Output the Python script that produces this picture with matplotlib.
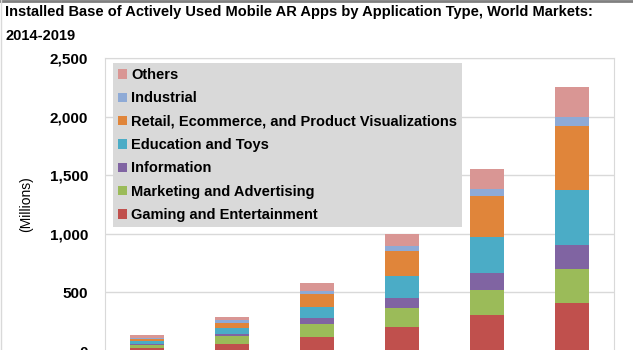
import matplotlib.pyplot as plt
import numpy as np

plt.rcParams['font.family'] = ['Liberation Sans', 'DejaVu Sans']

years = ["2014", "2015", "2016", "2017", "2018", "2019"]
gaming = [27, 63, 120, 208, 306, 414]
marketing = [25, 63, 114, 158, 219, 283]
information = [10, 22, 49, 86, 144, 205]
education = [20, 47, 94, 185, 308, 475]
retail = [22, 48, 109, 214, 349, 543]
industrial = [8, 20, 28, 46, 60, 80]
others = [22, 28, 66, 103, 168, 251]

series = [
    ("Gaming and Entertainment", gaming, "#c0504d"),
    ("Marketing and Advertising", marketing, "#9bbb59"),
    ("Information", information, "#8064a2"),
    ("Education and Toys", education, "#4bacc6"),
    ("Retail, Ecommerce, and Product Visualizations", retail, "#e0853a"),
    ("Industrial", industrial, "#8eaad6"),
    ("Others", others, "#d99694"),
]

fig = plt.figure(figsize=(6.33, 3.5), dpi=100)
ax = fig.add_axes([105/633, -0.003, 509/633, 292/350 + 0.003])

x = np.arange(len(years))
bottom = np.zeros(len(years))
handles = []
for name, vals, col in series:
    h = ax.bar(x, vals, width=0.4, bottom=bottom, color=col, label=name, zorder=2)
    handles.append(h)
    bottom += np.array(vals)

ax.set_xlim(-0.5, 5.5)
ax.set_ylim(0, 2500)
ax.set_yticks([0, 500, 1000, 1500, 2000, 2500])
ax.set_yticklabels(["0", "500", "1,000", "1,500", "2,000", "2,500"],
                   fontsize=11, fontweight="bold")
ax.set_xticks([])
ax.tick_params(axis="y", length=0, pad=12)
ax.grid(axis="y", color="#d9d9d9", linewidth=1, zorder=0)
for s in ax.spines.values():
    s.set_color("#d9d9d9")
ax.spines["bottom"].set_visible(False)
ax.set_ylabel("(Millions)", fontsize=10, labelpad=12)

leg = ax.legend(handles[::-1], [s[0] for s in series][::-1],
                loc="upper left", bbox_to_anchor=(8/509, 1 - 5/292),
                frameon=True, fancybox=False, facecolor="#d9d9d9",
                edgecolor="#d9d9d9", framealpha=1,
                prop={"size": 10.5, "weight": "bold"},
                handlelength=0.6, handleheight=0.6, handletextpad=0.3,
                labelspacing=0.64, borderpad=0.35, borderaxespad=0)
leg.get_frame().set_linewidth(0)

fig.text(5/633, 1 - 5/350, "Installed Base of Actively Used Mobile AR Apps by Application Type, World Markets:\n2014-2019",
         fontsize=10.5, fontweight="bold", ha="left", va="top", linespacing=1.95)

fig.add_artist(plt.Line2D([0, 1], [0.997, 0.997], color="#808080", linewidth=2, transform=fig.transFigure))
fig.add_artist(plt.Line2D([0.001, 0.001], [0, 1], color="#d9d9d9", linewidth=1, transform=fig.transFigure))

fig.savefig("out.png", dpi=100)
